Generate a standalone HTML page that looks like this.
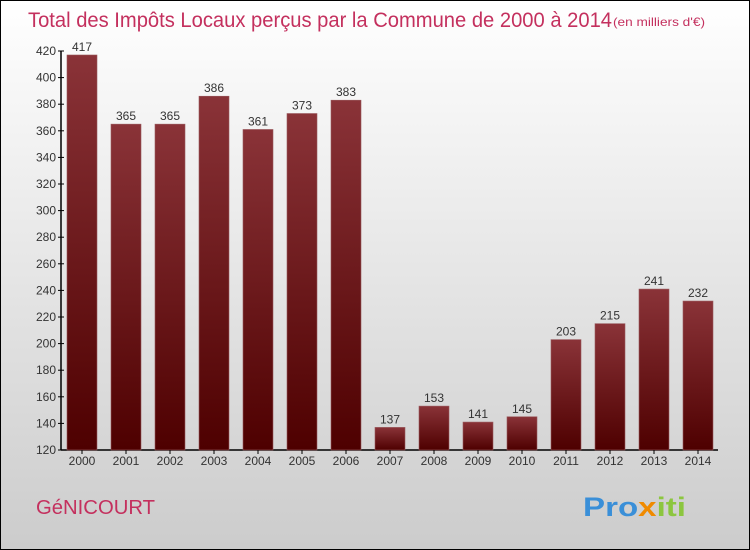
<!DOCTYPE html>
<html><head><meta charset="utf-8"><style>
body{margin:0;width:750px;height:550px;overflow:hidden}
svg{display:block;font-family:"Liberation Sans",sans-serif}
</style></head><body>
<svg width="750" height="550">
<defs>
<linearGradient id="bg" x1="0" y1="0" x2="0" y2="1"><stop offset="0" stop-color="#ffffff"/><stop offset="1" stop-color="#cccccc"/></linearGradient>
<linearGradient id="bar" x1="0" y1="0" x2="0" y2="1"><stop offset="0" stop-color="#8a3338"/><stop offset="1" stop-color="#4e0000"/></linearGradient>
</defs>
<rect x="0.5" y="0.5" width="749" height="549" fill="url(#bg)" stroke="#000"/>
<text x="28" y="27" font-size="21" fill="#c4305e" textLength="584" lengthAdjust="spacingAndGlyphs">Total des Impôts Locaux perçus par la Commune de 2000 à 2014</text>
<text x="613" y="26" font-size="12" fill="#c4305e" textLength="92" lengthAdjust="spacingAndGlyphs">(en milliers d'€)</text>
<g id="yaxis"></g>
<g id="bars"></g>
<text x="36" y="514" font-size="20" fill="#c4305e" textLength="119" lengthAdjust="spacingAndGlyphs">GéNICOURT</text>
<text x="583" y="516" font-size="27" font-weight="bold" textLength="103" lengthAdjust="spacingAndGlyphs"><tspan fill="#3a8fd8">Pro</tspan><tspan fill="#f08a00">x</tspan><tspan fill="#8cc63f">iti</tspan></text>
</svg>
<script>
const years=["2000","2001","2002","2003","2004","2005","2006","2007","2008","2009","2010","2011","2012","2013","2014"];
const values=[417,365,365,386,361,373,383,137,153,141,145,203,215,241,232];
const yTicks=[120,140,160,180,200,220,240,260,280,300,320,340,360,380,400,420];
const NS="http://www.w3.org/2000/svg";
const y=v=>450-(v-120)*399/300;
const x=i=>67+i*44;
function mk(t,a,p){const e=document.createElementNS(NS,t);for(const k in a)e.setAttribute(k,a[k]);p.appendChild(e);return e;}
const ya=document.getElementById('yaxis'),bs=document.getElementById('bars');
let ax=mk('line',{x1:61,y1:y(420),x2:61,y2:450,stroke:'#000','stroke-width':1.5},ya);


let xl=mk('line',{x1:61,y1:450,x2:718,y2:450,stroke:'#000','stroke-width':1.5},ya);


yTicks.forEach(v=>{
 mk('line',{x1:58,x2:64,y1:y(v),y2:y(v),stroke:'#000'},ya);
 const t=mk('text',{x:56,y:y(v)+4,'font-size':12,'text-anchor':'end',fill:'#333'},ya);t.textContent=v;
 
 
});
values.forEach((v,i)=>{
 const r=mk('rect',{x:x(i),y:y(v),width:30,height:450-y(v),fill:'url(#bar)',stroke:'#9a5a5e','stroke-width':0.6},bs);
 
 
 const l=mk('text',{x:x(i)+15,y:y(v)-4,'font-size':12,'text-anchor':'middle',fill:'#333'},bs);l.textContent=v;
 
 
 mk('line',{x1:x(i)+15,x2:x(i)+15,y1:450,y2:454,stroke:'#000'},bs);
 const yl=mk('text',{x:x(i)+15,y:465,'font-size':12,'text-anchor':'middle',fill:'#333'},bs);yl.textContent=years[i];
 
 
});
</script>
</body></html>
